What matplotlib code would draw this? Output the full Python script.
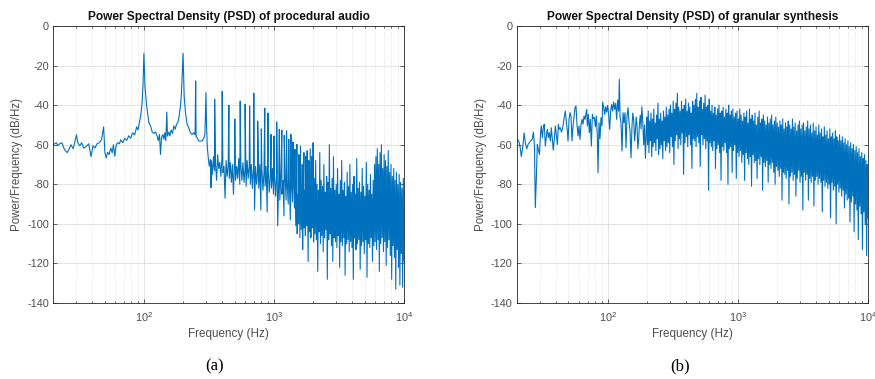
"""
PSD comparison: procedural audio vs granular synthesis
"""
import numpy as np
import matplotlib
matplotlib.use("Agg")
import matplotlib.pyplot as plt

plt.rcParams['font.family'] = ['Liberation Sans', 'DejaVu Sans']
plt.rcParams['axes.unicode_minus'] = False
plt.rcParams['mathtext.fontset'] = 'custom'
plt.rcParams['mathtext.rm'] = 'Liberation Sans'

line_color = '#0072BD'

# ---- (a) procedural audio, low band (Hz, dB/Hz) ----
a_freq = [20, 21.2, 21.8, 22.5, 23.4, 24.5, 25.7, 26.8, 27.5, 28.5,
          29.2, 30.3, 31.0, 32.1, 33.2, 34.4, 35.9, 37.6, 39.2, 40.6,
          42.0, 43.6, 45.3, 47.2, 49.0, 50.1, 51.3, 52.5, 54.0, 55.6,
          57.0, 58.3, 59.7, 61.1, 62.6, 64.8, 66.4, 68.8, 71.2, 73.8,
          76.4, 79.1, 81.9, 84.9, 87.9, 90.0, 92.1, 94.3, 96.5, 98.3,
          99.4, 100, 101.8, 104.8, 109.2, 112.5, 115.8, 119.3, 122.9, 126.5,
          128.8, 131.8, 134.1, 136.6, 139.9, 142.4, 144.9, 147.4, 150, 151.8,
          155.4, 158.2, 162, 165.9, 169.9, 173.9, 178.1, 182.3, 186.6, 191.1,
          194.5, 198, 200, 201.5, 203.9, 208.7, 214.9, 221.2, 227.7, 234.5,
          241.4, 247.5, 250, 252, 256.3, 263.8, 271.6, 279.6, 287.8, 294.6,
          300, 303.3, 307, 312.5, 318.1, 324.3, 328]
a_db = [-60, -59, -60.5, -59.5, -59, -62.5, -64, -61.7, -60, -62,
        -59.5, -55, -59, -60.5, -59, -61.7, -61, -59.5, -66, -60.5,
        -61.7, -59.5, -59, -57.5, -51, -64, -66.7, -63.8, -65, -61.7,
        -64, -60, -65.8, -60.5, -59, -59.5, -57.5, -59, -56.7, -57.8,
        -55.5, -56.7, -54, -55, -51, -52.5, -49, -45.8, -40, -30.8,
        -20.8, -13.8, -30, -40, -48.9, -50.5, -53.6, -54.3, -53.6, -55.6,
        -58, -54.8, -64.9, -56.4, -54.8, -57.3, -53.9, -58, -43.5, -55.6,
        -53.6, -55.6, -52.6, -54.3, -50.5, -52.2, -49.7, -48.9, -45.5, -40.4,
        -33.7, -20.2, -13.8, -22, -35.4, -43.8, -49.7, -51.4, -53.9, -54.8,
        -53.9, -55, -27.8, -56, -56.4, -58.1, -58.1, -58.1, -57, -54.8,
        -33.7, -50.5, -60.7, -66.6, -70.8, -67.4, -81.7]

# harmonic lines of (a) above 300 Hz
a_harm_freq = [350, 400, 450, 500, 550, 600, 650, 700, 750, 800,
               850, 900, 950, 1000, 1050, 1100, 1150, 1200, 1250, 1300,
               1350, 1400, 1450, 1500, 1550, 1600, 1650, 1700, 1750, 1800,
               1850, 1900, 1950, 2000]
a_harm_db = [-37, -33, -40, -47, -38, -39.6, -40.4, -34, -48, -52,
             -41.5, -44, -54.8, -55.6, -48.5, -52.2, -52.6, -55.3, -53, -57.3,
             -54.8, -58.6, -62.3, -59.8, -65, -60.7, -70, -64, -66, -63,
             -68, -62, -66, -59]

# noise floor of (a), 330-1440 Hz (log spaced bins)
a_mid = [-68, -75, -66, -73, -70, -78, -65, -72, -69, -76,
         -67, -74, -71, -87, -68, -76, -70, -77, -69, -79,
         -70, -85, -68, -78, -71, -77, -67, -80, -70, -78,
         -69, -79, -72, -81, -68, -77, -71, -80, -70, -82,
         -72, -93, -71, -80, -73, -82, -70, -93, -72, -83,
         -74, -81, -71, -94, -73, -84, -75, -82, -72, -85,
         -76, -86, -74, -101, -77, -88, -75, -85, -78, -96,
         -76, -88, -79, -90, -77, -98, -80, -89, -78, -92]

# dense band of (a), 1.45-10 kHz, alternating local max / min
a_band = [-82, -101, -78, -105, -85, -100, -66, -107, -80, -103,
          -84, -113, -79, -102, -83, -106, -76, -101, -81, -119,
          -85, -104, -62, -107, -79, -102, -82, -109, -77, -105,
          -68, -108, -80, -124, -83, -104, -64, -110, -78, -106,
          -81, -114, -70, -107, -84, -103, -76, -128, -79, -108,
          -60, -105, -82, -111, -77, -119, -66, -107, -83, -109,
          -80, -112, -72, -106, -85, -122, -78, -109, -68, -111,
          -83, -107, -79, -126, -86, -110, -74, -108, -81, -114,
          -70, -109, -84, -112, -80, -128, -76, -107, -85, -113,
          -67, -110, -82, -108, -79, -123, -84, -111, -72, -109,
          -81, -115, -86, -108, -69, -127, -80, -110, -83, -112,
          -75, -107, -85, -119, -78, -111, -70, -109, -66, -113,
          -62, -108, -70, -124, -64, -110, -60, -107, -72, -114,
          -65, -109, -68, -121, -71, -112, -63, -108, -74, -116,
          -70, -128, -76, -111, -72, -117, -78, -133, -74, -113,
          -80, -122, -75, -131, -79, -115, -82, -132, -77, -119]

# ---- (b) granular synthesis, low band (Hz, dB/Hz) ----
b_freq = [20.0, 20.7, 21.2, 21.7, 22.3, 22.8, 23.3, 23.9, 24.5, 25.0,
          25.7, 26.3, 26.9, 27.4, 27.8, 28.3, 28.8, 29.3, 29.9, 30.4,
          30.9, 31.5, 32.1, 32.6, 33.2, 33.8, 34.4, 35.0, 35.6, 36.3,
          36.9, 37.6, 38.2, 38.9, 39.6, 40.3, 41.1, 41.8, 42.5, 43.3,
          44.1, 44.9, 45.7, 46.5, 47.3, 48.2, 49.0, 49.6, 50.5, 51.4,
          52.3, 53.2, 54.2, 55.2, 56.1, 57.1, 58.1, 59.2, 60.2, 61.3,
          62.4, 63.5, 64.6, 65.8, 67.0, 68.2, 69.0, 69.8, 71.1, 72.3,
          73.6, 74.9, 76.3, 77.6, 79.0, 80.4, 81.8, 83.3, 84.3, 85.8,
          87.3, 88.9, 90.5, 91.5, 93.2, 94.8, 96.5, 98.2, 100, 101.8,
          103.6, 105.4, 107.3, 109.2, 111.2, 113.2, 115.2, 117.2, 119.3, 121.5,
          122.9, 124.4, 126.6, 128.9, 131.2, 133.5, 135.9, 138.3, 140.8, 143.3,
          145.9, 148.5, 151.1, 153.8, 156, 158.5, 161, 163, 165.5, 168,
          170.5, 173, 175.5, 178, 180.5, 183, 186, 189, 192, 195,
          198]
b_db = [-57.3, -58, -60.7, -66, -60.7, -54, -59, -62, -59.8, -59,
        -58, -57.3, -53.6, -60.7, -91.8, -77.5, -59.8, -62.3, -64.9, -55.6,
        -50.5, -56.4, -50.5, -49.7, -60.7, -55.6, -52.2, -56.4, -53.9, -58.1,
        -51.4, -57.3, -62.7, -57.3, -50.5, -54.8, -59.8, -49.7, -52.2, -51.4,
        -53.6, -52.2, -49.2, -45.5, -43, -48.9, -53, -58.1, -47.2, -43.8,
        -45.5, -58.1, -50.5, -45.5, -41.3, -40.4, -49.7, -55.6, -50.5, -57.3,
        -49.7, -47.2, -49.7, -45.5, -47.2, -44.1, -42.1, -50.5, -44.7, -53.9,
        -47.2, -60.7, -44.7, -46.8, -46.3, -50.9, -45.5, -55.6, -74.1, -48.9,
        -57, -46.3, -50.5, -38.4, -41.3, -44.7, -40.8, -43.5, -40.1, -45.2,
        -52.2, -43, -39.6, -43, -38.4, -42.1, -39.1, -47.2, -37.4, -43,
        -27, -45.5, -48.9, -63.2, -43.8, -48.9, -43.8, -61.5, -45.5, -41.3,
        -48.9, -53, -66.6, -50.5, -44, -47.5, -58, -54.2, -46, -50,
        -62, -57.6, -49, -45, -52, -40.8, -48, -60.1, -50, -66.9,
        -52.6]

# dense band of (b), 0.2-10 kHz, alternating local max / min
b_band = [-46, -60, -43, -64, -48, -58, -44, -66, -47, -61,
          -42, -59, -49, -63, -45, -57, -39, -65, -47, -62,
          -44, -60, -48, -67, -43, -58, -46, -63, -41, -61,
          -45, -59, -42, -64, -40, -56, -44, -61, -38, -70,
          -42, -58, -39, -55, -34, -62, -41, -57, -43, -60,
          -38, -54, -42, -75, -40, -59, -37, -56, -43, -61,
          -39, -55, -41, -60, -44, -72, -38, -57, -40, -58,
          -37, -61, -34, -56, -41, -59, -38, -71, -36, -55,
          -42, -60, -39, -57, -35, -62, -41, -58, -40, -83,
          -37, -59, -43, -61, -40, -63, -44, -58, -41, -72,
          -45, -62, -42, -60, -40, -64, -44, -78, -43, -61,
          -41, -63, -46, -59, -42, -64, -44, -80, -40, -62,
          -45, -61, -43, -74, -42, -63, -46, -60, -44, -77,
          -43, -64, -47, -66, -42, -63, -45, -69, -48, -65,
          -44, -78, -46, -64, -43, -67, -49, -70, -42, -66,
          -47, -81, -45, -65, -48, -69, -44, -68, -50, -77,
          -46, -67, -43, -70, -49, -66, -47, -83, -45, -69,
          -48, -71, -50, -68, -46, -79, -49, -70, -47, -72,
          -45, -69, -50, -74, -48, -80, -46, -71, -49, -73,
          -51, -76, -48, -72, -50, -88, -47, -74, -52, -75,
          -49, -77, -51, -73, -48, -90, -50, -76, -52, -74,
          -47, -78, -51, -75, -49, -86, -53, -77, -50, -73,
          -48, -79, -52, -76, -50, -93, -49, -74, -53, -78,
          -51, -75, -48, -88, -52, -77, -50, -79, -54, -76,
          -49, -91, -53, -78, -51, -76, -55, -80, -50, -77,
          -54, -79, -52, -94, -56, -78, -51, -81, -55, -79,
          -53, -82, -57, -80, -52, -97, -56, -79, -54, -83,
          -57, -81, -53, -100, -56, -80, -58, -84, -55, -82,
          -58, -86, -56, -83, -59, -92, -57, -85, -60, -88,
          -58, -87, -61, -99, -59, -89, -62, -86, -60, -104,
          -63, -90, -61, -93, -64, -108, -62, -91, -66, -95,
          -64, -113, -67, -94, -65, -100, -68, -116, -70, -97]

titles = ['Power Spectral Density (PSD) of procedural audio',
          'Power Spectral Density (PSD) of granular synthesis']
captions = ['(a)', '(b)']


def build_series(parts):
    """
    merge (freq, dB) pieces into one frequency-ordered trace
    """
    f = np.concatenate([np.asarray(p[0], float) for p in parts])
    d = np.concatenate([np.asarray(p[1], float) for p in parts])
    order = np.argsort(f, kind='stable')
    return f[order], d[order]


def style_axes(ax, title):
    ax.set_xscale('log')
    ax.set_xlim(20, 1e4)
    ax.set_ylim(-140, 0)
    ax.set_yticks(np.arange(-140, 1, 20))
    ax.set_axisbelow(True)
    ax.grid(True, which='major', color='#dedede', lw=0.6)
    ax.grid(True, which='minor', axis='x', color='#d0d0d0', lw=0.5, ls=(0, (1, 2)))
    ax.tick_params(which='both', direction='in', top=True, right=True,
                   colors='#262626', labelcolor='#4d4d4d', labelsize=7.8, width=0.5)
    ax.tick_params(which='major', length=3, pad=3)
    ax.tick_params(axis='x', which='major', pad=5)
    ax.tick_params(which='minor', length=1.5)
    for s in ax.spines.values():
        s.set_color('#262626')
        s.set_linewidth(0.6)
    ax.set_title(title, fontsize=8.6, fontweight='bold', pad=4.5, color='#111111')
    ax.set_xlabel('Frequency (Hz)', fontsize=8.4, color='#4d4d4d', labelpad=3)
    ax.set_ylabel('Power/Frequency (dB/Hz)', fontsize=8.3, color='#4d4d4d', labelpad=3)


fig = plt.figure(figsize=(8.75, 3.79), dpi=100)
ax_a = fig.add_axes([0.0606, 0.2005, 0.4011, 0.7309])
ax_b = fig.add_axes([0.5905, 0.2005, 0.4015, 0.7309])

fa, da = build_series([
    (a_freq, a_db),
    (np.geomspace(330, 1440, len(a_mid)), a_mid),
    (np.geomspace(1455, 10000, len(a_band)), a_band),
    (a_harm_freq, a_harm_db),
])
fb, db = build_series([
    (b_freq, b_db),
    (np.geomspace(200, 10000, len(b_band)), b_band),
])

ax_a.plot(fa, da, color=line_color, lw=0.8)
ax_b.plot(fb, db, color=line_color, lw=0.8)

for ax, title in zip([ax_a, ax_b], titles):
    style_axes(ax, title)

fig.text(215 / 875, 1 - 366 / 379, captions[0], ha='center', va='center',
         family='Liberation Serif', fontsize=12)
fig.text(680 / 875, 1 - 366 / 379, captions[1], ha='center', va='center',
         family='Liberation Serif', fontsize=12)

fig.savefig('out.png', dpi=100)
